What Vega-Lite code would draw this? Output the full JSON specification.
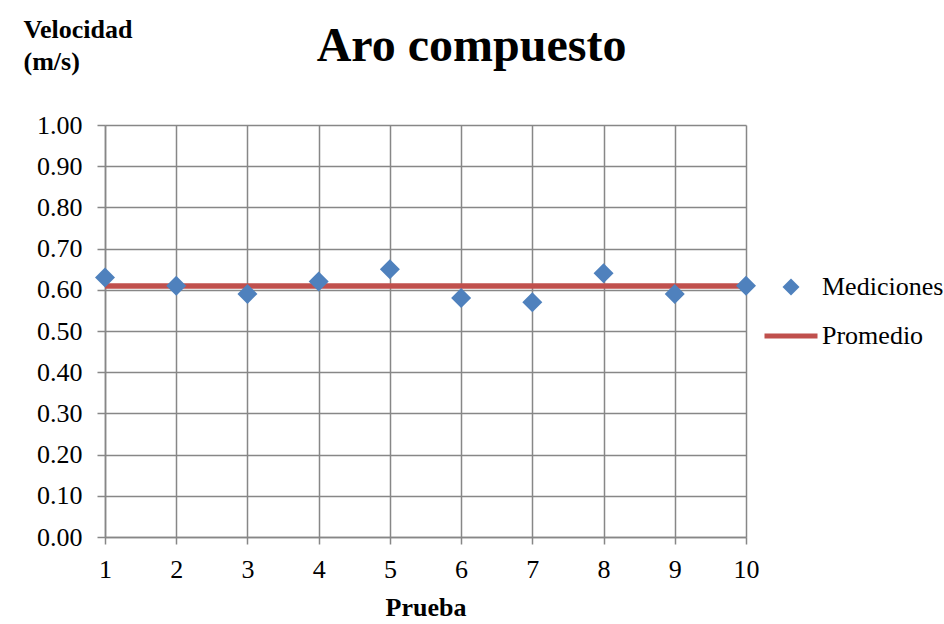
{
  "$schema": "https://vega.github.io/schema/vega-lite/v6.json",
  "width": 641,
  "height": 412,
  "autosize": {"type": "none"},
  "padding": {"left": 105, "top": 125, "right": 198, "bottom": 87},
  "background": "white",
  "title": {
    "text": "Aro compuesto",
    "font": "Liberation Serif",
    "fontSize": 48,
    "fontWeight": "bold",
    "color": "black",
    "anchor": "middle",
    "frame": "group",
    "baseline": "alphabetic",
    "offset": 0,
    "dx": 46,
    "dy": 93
  },
  "data": {
    "values": [
      {"prueba": 1, "velocidad": 0.63, "serie": "Mediciones"},
      {"prueba": 2, "velocidad": 0.61, "serie": "Mediciones"},
      {"prueba": 3, "velocidad": 0.59, "serie": "Mediciones"},
      {"prueba": 4, "velocidad": 0.62, "serie": "Mediciones"},
      {"prueba": 5, "velocidad": 0.65, "serie": "Mediciones"},
      {"prueba": 6, "velocidad": 0.58, "serie": "Mediciones"},
      {"prueba": 7, "velocidad": 0.57, "serie": "Mediciones"},
      {"prueba": 8, "velocidad": 0.64, "serie": "Mediciones"},
      {"prueba": 9, "velocidad": 0.59, "serie": "Mediciones"},
      {"prueba": 10, "velocidad": 0.61, "serie": "Mediciones"},
      {"prueba": 1, "velocidad": 0.609, "serie": "Promedio"},
      {"prueba": 10, "velocidad": 0.609, "serie": "Promedio"}
    ]
  },
  "encoding": {
    "x": {
      "field": "prueba",
      "type": "quantitative",
      "scale": {"domain": [1, 10], "nice": false, "zero": false},
      "axis": {
        "title": "Prueba",
        "values": [1, 2, 3, 4, 5, 6, 7, 8, 9, 10],
        "format": "d",
        "grid": true,
        "labelFlush": false,
        "tickSize": 7,
        "labelPadding": 33,
        "labelBaseline": "alphabetic",
        "titleY": 78,
        "titleBaseline": "alphabetic",
        "titleAnchor": "middle"
      }
    },
    "y": {
      "field": "velocidad",
      "type": "quantitative",
      "scale": {"domain": [0, 1], "nice": false},
      "axis": {
        "title": ["Velocidad", "(m/s)"],
        "values": [0, 0.1, 0.2, 0.3, 0.4, 0.5, 0.6, 0.7, 0.8, 0.9, 1.0],
        "format": ".2f",
        "grid": true,
        "labelFlush": false,
        "tickSize": 8,
        "labelPadding": 15,
        "titleAngle": 0,
        "titleAlign": "left",
        "titleBaseline": "alphabetic",
        "titleX": -82,
        "titleY": -88,
        "titleLineHeight": 32
      }
    },
    "color": {
      "field": "serie",
      "type": "nominal",
      "scale": {"domain": ["Mediciones", "Promedio"], "range": ["#4F81BD", "#C0504D"]},
      "legend": {
        "title": null,
        "orient": "none",
        "legendX": 673,
        "legendY": 149,
        "symbolSize": 2809,
        "labelOffset": 18,
        "rowPadding": 23,
        "labelFont": "Liberation Serif",
        "labelFontSize": 26,
        "labelColor": "black",
        "labelLimit": 300,
        "encode": {
          "symbols": {
            "update": {
              "size": {"signal": "datum.value === 'Promedio' ? 2809 : 289"},
              "shape": {"signal": "datum.value === 'Promedio' ? 'stroke' : 'diamond'"},
              "stroke": {"signal": "datum.value === 'Promedio' ? '#C0504D' : 'transparent'"},
              "strokeWidth": {"signal": "datum.value === 'Promedio' ? 5 : 0"},
              "fill": {"signal": "datum.value === 'Promedio' ? 'transparent' : '#4F81BD'"},
              "opacity": {"value": 1},
              "fillOpacity": {"value": 1},
              "strokeOpacity": {"value": 1}
            }
          }
        }
      }
    }
  },
  "layer": [
    {
      "transform": [{"filter": "datum.serie === 'Promedio'"}],
      "mark": {"type": "line", "strokeWidth": 5.5, "strokeCap": "butt"}
    },
    {
      "transform": [{"filter": "datum.serie === 'Mediciones'"}],
      "mark": {"type": "point", "shape": "diamond", "filled": true, "size": 400, "opacity": 1}
    }
  ],
  "config": {
    "font": "Liberation Serif",
    "view": {"stroke": null},
    "axis": {
      "labelFont": "Liberation Serif",
      "labelFontSize": 26,
      "labelColor": "black",
      "titleFont": "Liberation Serif",
      "titleFontSize": 26,
      "titleFontWeight": "bold",
      "titleColor": "black",
      "gridColor": "#878787",
      "gridWidth": 1.5,
      "gridOpacity": 1,
      "domainColor": "#878787",
      "domainWidth": 1.5,
      "tickColor": "#878787",
      "tickWidth": 1.5
    }
  }
}
